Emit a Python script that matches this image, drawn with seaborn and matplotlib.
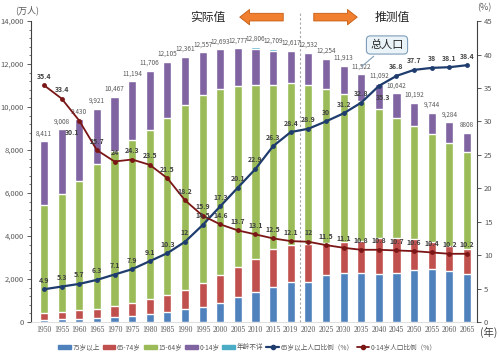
import numpy as np
import pandas as pd
import matplotlib
matplotlib.use("Agg")
import matplotlib.pyplot as plt
from matplotlib.lines import Line2D
from matplotlib.patches import Patch
import seaborn as sns

years = ["1950", "1955", "1960", "1965", "1970", "1975", "1980", "1985", "1990", "1995",
         "2000", "2005", "2010", "2015", "2019", "2020", "2025", "2030", "2035", "2040",
         "2045", "2050", "2055", "2060", "2065"]
total = [8411, 9008, 9430, 9921, 10467, 11194, 11706, 12105, 12361, 12557,
         12693, 12777, 12806, 12709, 12617, 12532, 12254, 11913, 11522, 11092,
         10642, 10192, 9744, 9284, 8808]
total_lbl = ["8,411", "9,008", "9,430", "9,921", "10,467", "11,194", "11,706", "12,105", "12,361",
             "12,557", "12,693", "12,777", "12,806", "12,709", "12,617", "12,532", "12,254",
             "11,913", "11,522", "11,092", "10,642", "10,192", "9,744", "9,284", "8808"]
age75 = [107, 139, 163, 189, 224, 284, 366, 471, 597, 717, 901, 1164, 1419, 1632, 1849,
         1872, 2180, 2288, 2260, 2239, 2277, 2417, 2446, 2387, 2248]
age65 = [309, 336, 373, 435, 516, 603, 699, 776, 892, 1109, 1301, 1407, 1517, 1755, 1740,
         1747, 1497, 1428, 1522, 1681, 1643, 1424, 1258, 1154, 1133]
age15 = [5017, 5473, 6047, 6744, 7212, 7581, 7883, 8251, 8590, 8716, 8638, 8409, 8103, 7629, 7507,
         7406, 7170, 6875, 6494, 5978, 5584, 5275, 5028, 4793, 4529]
age0 = [2978, 3012, 2847, 2553, 2515, 2722, 2751, 2603, 2249, 2001, 1847, 1752, 1680, 1589, 1521,
        1507, 1407, 1321, 1246, 1194, 1138, 1077, 1012, 951, 898]
unknown = [0, 0, 0, 0, 0, 0, 0, 0, 0, 0, 0, 0, 87, 104, 0, 0, 0, 0, 0, 0, 0, 0, 0, 0, 0]
ratio65 = [4.9, 5.3, 5.7, 6.3, 7.1, 7.9, 9.1, 10.3, 12, 14.5, 17.3, 20.1, 22.9, 26.3, 28.4,
           28.9, 30, 31.2, 32.8, 35.3, 36.8, 37.7, 38, 38.1, 38.4]
ratio0 = [35.4, 33.4, 30.1, 25.7, 24, 24.3, 23.5, 21.5, 18.2, 15.9, 14.6, 13.7, 13.1, 12.5, 12.1,
          12, 11.5, 11.1, 10.8, 10.8, 10.7, 10.6, 10.4, 10.2, 10.2]

C_BLUE, C_RED, C_GREEN, C_PURPLE, C_CYAN = "#4F81BD", "#C0504D", "#9BBB59", "#8064A2", "#4BACC6"
C_NAVY, C_DRED = "#1F3C6E", "#7B1616"
TXT = "#595959"

sns.set_style("white")
plt.rcParams["font.family"] = ["Noto Sans CJK SC", "DejaVu Sans"]

df = pd.DataFrame({"year": years, "a75": age75, "a65": age65, "a15": age15,
                   "a0": age0, "unk": unknown})
df["c65"] = df["a75"] + df["a65"]
df["c15"] = df["c65"] + df["a15"]
df["c0"] = df["c15"] + df["a0"]
df["cu"] = df["c0"] + df["unk"]

fig = plt.figure(figsize=(5, 3.57), dpi=100)
ax = fig.add_axes([0.062, 0.098, 0.892, 0.843])

bw = 0.46
for col, c in [("cu", C_CYAN), ("c0", C_PURPLE), ("c15", C_GREEN), ("c65", C_RED), ("a75", C_BLUE)]:
    sns.barplot(data=df, x="year", y=col, color=c, width=bw, saturation=1, ax=ax)

pos = np.arange(len(years))
for p, v, s in zip(pos, df["cu"], total_lbl):
    ax.text(p, v + 180, s, ha="center", va="bottom", fontsize=4.6, color=TXT)

ax.set_xlim(-0.74, 24.57)
ax.set_ylim(0, 14000)
ax.set_yticks(np.arange(0, 14001, 2000))
ax.set_yticklabels([f"{v:,}" for v in range(0, 14001, 2000)], fontsize=5.5, color=TXT)
ax.set_yticks(np.arange(0, 14001, 400), minor=True)
ax.tick_params(axis="y", which="major", length=3, width=0.6, color="#404040", pad=2)
ax.tick_params(axis="y", which="minor", length=1.5, width=0.5, color="#404040")
ax.tick_params(axis="x", labelsize=5.5, labelcolor=TXT, length=0, pad=3)
for t in ax.get_xticklabels():
    t.set_family(["Liberation Serif", "DejaVu Serif"])
ax.set_xlabel("")
ax.set_ylabel("")
for s in ["top", "right"]:
    ax.spines[s].set_visible(False)
ax.spines["left"].set_color("#404040")
ax.spines["left"].set_linewidth(0.8)
ax.spines["bottom"].set_color("#D9D9D9")
ax.spines["bottom"].set_linewidth(0.6)

ax.axvline(14.5, ymin=0, ymax=1.03, color="#A6A6A6", ls=(0, (2, 2)), lw=0.8, clip_on=False)

ax2 = ax.twinx()
sns.lineplot(x=pos, y=ratio65, color=C_NAVY, lw=1.6, marker="o", markersize=3.5,
             markeredgewidth=0, ax=ax2)
sns.lineplot(x=pos, y=ratio0, color=C_DRED, lw=1.3, marker="o", markersize=3.5,
             markeredgewidth=0, ax=ax2)
ax2.set_ylim(0, 45)
ax2.set_yticks(np.arange(0, 46, 5))
ax2.tick_params(axis="y", labelsize=5.5, labelcolor=TXT, length=3, width=0.6, color="#404040", pad=2)
for s in ["top", "left", "bottom"]:
    ax2.spines[s].set_visible(False)
ax2.spines["right"].set_color("#404040")
ax2.spines["right"].set_linewidth(0.8)
ax2.set_xlim(-0.74, 24.57)

off65 = {19: (3, -11)}
off0 = {2: (-5, -11)}
for i, (p, v) in enumerate(zip(pos, ratio65)):
    ax2.annotate(f"{v:g}", (p, v), xytext=off65.get(i, (0, 4)), textcoords="offset points",
                 ha="center", va="bottom", fontsize=5, color="#404040", fontweight="bold")
for i, (p, v) in enumerate(zip(pos, ratio0)):
    ax2.annotate(f"{v:g}", (p, v), xytext=off0.get(i, (0, 4)), textcoords="offset points",
                 ha="center", va="bottom", fontsize=5, color="#404040", fontweight="bold")

# header texts and arrows
fig.text(0.03, 0.972, "(万人)", fontsize=6.5, color=TXT, ha="left", va="center")
fig.text(0.968, 0.978, "(%)", fontsize=6.5, color=TXT, ha="center", va="center")
fig.text(0.978, 0.07, "(年)", fontsize=7.5, color="#404040", ha="center", va="center")
fig.text(0.416, 0.952, "实际值", fontsize=8.5, color="#262626", ha="center", va="center")
fig.text(0.784, 0.952, "推测值", fontsize=8.5, color="#262626", ha="center", va="center")
arrow = dict(arrowstyle="simple,head_length=0.7,head_width=1.1,tail_width=0.55",
             fc="#F07F2F", ec="#C55A11", lw=0.6)
ax.annotate("", xy=(0.474, 0.952), xytext=(0.572, 0.952), xycoords="figure fraction",
            textcoords="figure fraction", arrowprops=arrow)
ax.annotate("", xy=(0.72, 0.952), xytext=(0.622, 0.952), xycoords="figure fraction",
            textcoords="figure fraction", arrowprops=arrow)

ax.annotate("总人口", xy=(17.9, 11800), xytext=(0.774, 0.874), textcoords="figure fraction",
            ha="center", va="center", fontsize=8, color="#262626",
            bbox=dict(boxstyle="round,pad=0.35", fc="#EAF4F8", ec="#7F9DB9", lw=0.8),
            arrowprops=dict(arrowstyle="-", color="#7F9DB9", lw=0.8))

handles = [Patch(color=C_BLUE), Patch(color=C_RED), Patch(color=C_GREEN), Patch(color=C_PURPLE),
           Patch(color=C_CYAN),
           Line2D([], [], color=C_NAVY, lw=1.6, marker="o", markersize=3),
           Line2D([], [], color=C_DRED, lw=1.3, marker="o", markersize=3)]
labels = ["75岁以上", "65-74岁", "15-64岁", "0-14岁", "年龄不详", "65岁以上人口比例（%）", "0-14岁人口比例（%）"]
leg = fig.legend(handles, labels, loc="center", bbox_to_anchor=(0.495, 0.028), ncol=7,
                 frameon=False, fontsize=4.8, handlelength=1.9, handleheight=0.5,
                 columnspacing=0.45, handletextpad=0.25)
for t in leg.get_texts():
    t.set_color(TXT)

fig.savefig("out.png", dpi=100)
